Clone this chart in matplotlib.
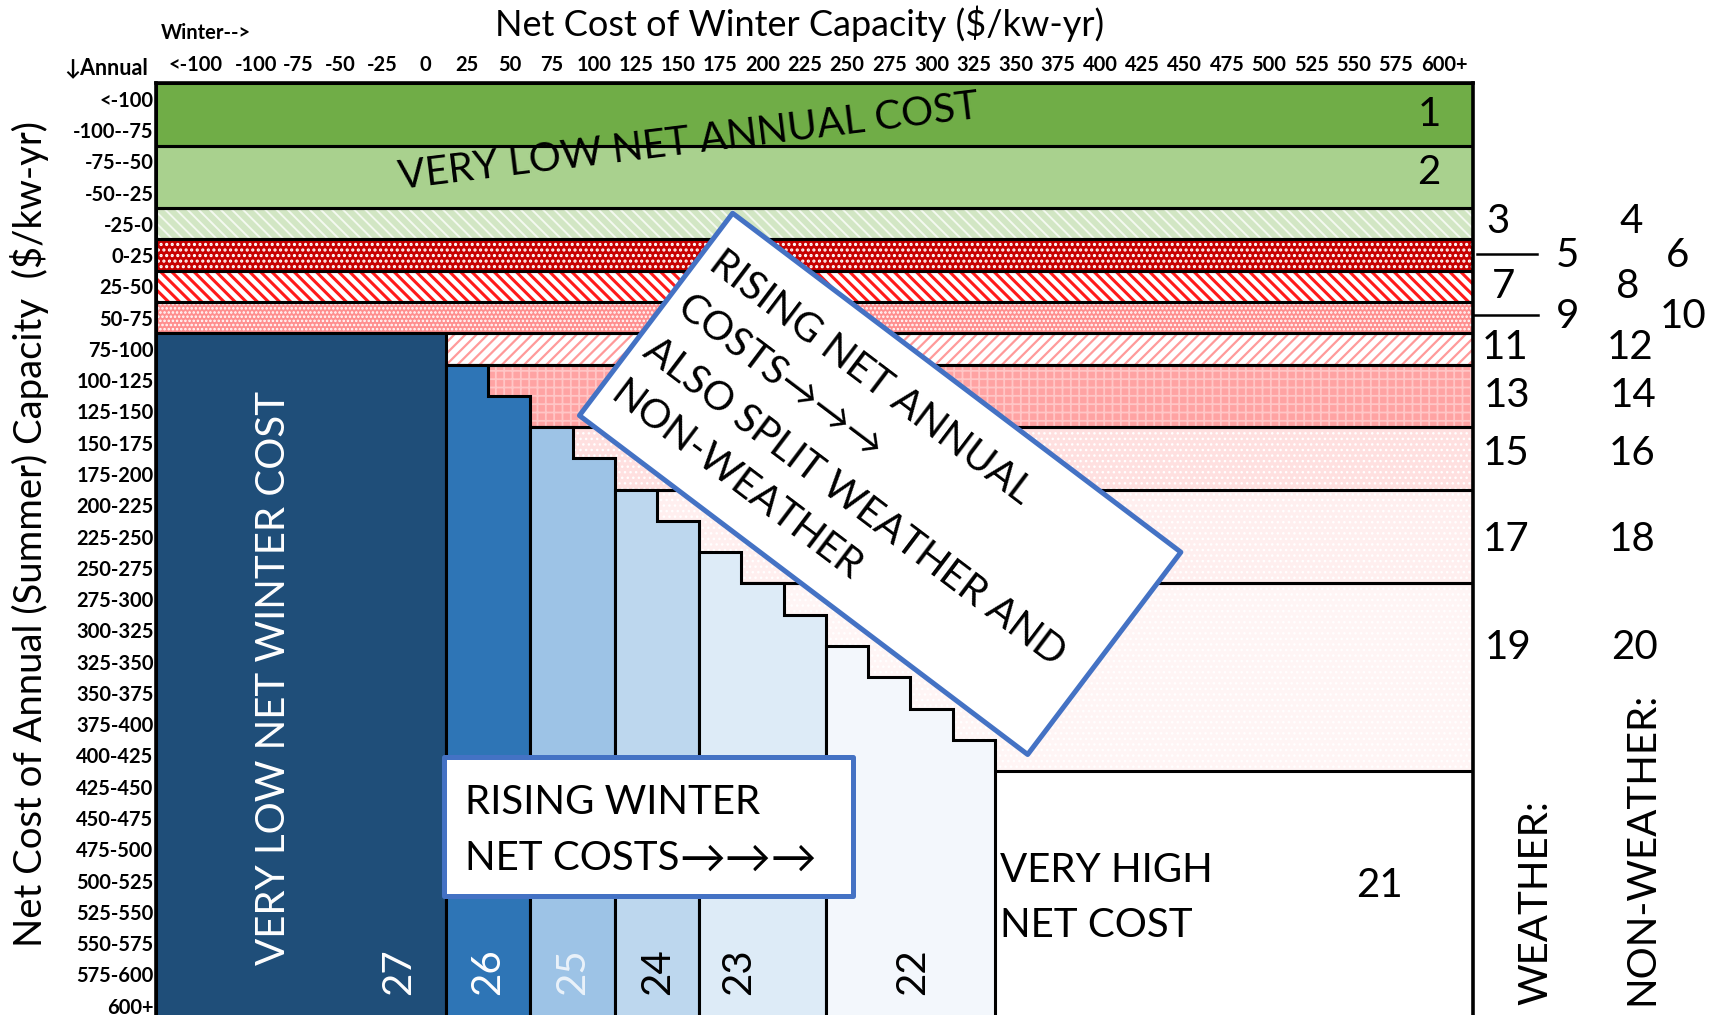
import matplotlib
matplotlib.use("Agg")
import matplotlib.pyplot as plt
from matplotlib.patches import Rectangle, Polygon
import numpy as np

# ---------------- data ----------------
col_labels = ["<-100", "-100", "-75", "-50", "-25", "0", "25", "50", "75", "100", "125",
              "150", "175", "200", "225", "250", "275", "300", "325", "350", "375", "400",
              "425", "450", "475", "500", "525", "550", "575", "600+"]
row_labels = ["<-100", "-100--75", "-75--50", "-50--25", "-25-0", "0-25", "25-50", "50-75",
              "75-100", "100-125", "125-150", "150-175", "175-200", "200-225", "225-250",
              "250-275", "275-300", "300-325", "325-350", "350-375", "375-400", "400-425",
              "425-450", "450-475", "475-500", "500-525", "525-550", "550-575", "575-600", "600+"]

# annual bands: (first row, last row exclusive)
band_rows = [(0, 2), (2, 4), (4, 5), (5, 6), (6, 7), (7, 8), (8, 9), (9, 11), (11, 13), (13, 16), (16, 22)]
band_face = ["#70AD47", "#A9D18E", "#D2E6C4", "#C80000", "#FFFFFF", "#FF8F8F", "#FFFFFF",
             "#FFA3A3", "#FFE0E0", "#FFEFEF", "#FFF5F5"]
band_hatch = [None, None, "\\\\\\", "...", "\\\\\\", "....", "///", "++", "...", "...", "..."]
band_hcol = [None, None, "#F4F9F0", "#FFFFFF", "#FF1A1A", "#FFFFFF", "#FF9A9A", "#FFC6C6",
             "#FFFFFF", "#FFFFFF", "#FFFFFF"]
band_hlw = [0, 0, 1.4, 1.5, 2.2, 1.2, 1.6, 1.3, 1.0, 1.0, 1.0]

# winter tiers: label, columns covered, top row of each column
tier_labels = [27, 26, 25, 24, 23, 22]
tier_cols = [[0, 1, 2, 3, 4, 5], [6, 7], [8, 9], [10, 11], [12, 13, 14], [15, 16, 17, 18]]
tier_tops = [[8, 8, 8, 8, 8, 8], [9, 10], [11, 12], [13, 14], [15, 16, 17], [18, 19, 20, 21]]
tier_face = ["#1F4E79", "#2E75B6", "#9DC3E6", "#BDD7EE", "#DDEBF7", "#F3F7FC"]
tier_text = ["white", "white", "#EAF2FA", "black", "black", "black"]
tier_num_x = [4.87, 6.99, 9.0, 11.02, 12.93, 17.06]

# right-side labels: (text, x, y)
side_labels = [("3", 30.92, 4.44), ("4", 34.08, 4.44), ("5", 32.56, 5.5), ("6", 35.19, 5.5),
               ("7", 31.05, 6.52), ("8", 33.99, 6.52), ("9", 32.58, 7.45), ("10", 35.31, 7.45),
               ("11", 31.09, 8.44), ("12", 34.05, 8.44), ("13", 31.14, 9.98), ("14", 34.12, 9.98),
               ("15", 31.12, 11.85), ("16", 34.10, 11.85), ("17", 31.12, 14.58), ("18", 34.10, 14.58),
               ("19", 31.16, 18.05), ("20", 34.17, 18.05)]

XMIN, XMAX = -0.865, 30.32
YMAX = 29.8

FONT = ["Lato", "DejaVu Sans"]
plt.rcParams["font.family"] = FONT

W, H = 1714, 1015
fig = plt.figure(figsize=(W / 100, H / 100), dpi=100)
ax = fig.add_axes([156.3 / W, 0, (1472.5 - 156.3) / W, (H - 83.1) / H])
ax.set_xlim(XMIN, XMAX)
ax.set_ylim(YMAX, 0)

EDGE_LW = 2.2

def hatched_rect(x0, y0, w, h, face, hatch, hcol, hlw, z):
    ax.add_patch(Rectangle((x0, y0), w, h, facecolor=face, edgecolor="none", lw=0, zorder=z))
    if hatch:
        with plt.rc_context({"hatch.linewidth": hlw}):
            p = Rectangle((x0, y0), w, h, facecolor="none", edgecolor=hcol, lw=0,
                          hatch=hatch, zorder=z + 0.1)
            if hasattr(p, "set_hatch_linewidth"):
                p.set_hatch_linewidth(hlw)
        ax.add_patch(p)
    ax.add_patch(Rectangle((x0, y0), w, h, facecolor="none", edgecolor="black",
                           lw=EDGE_LW, zorder=z + 0.2))

for (r0, r1), fc, ht, hc, hl in zip(band_rows, band_face, band_hatch, band_hcol, band_hlw):
    hatched_rect(XMIN, r0, XMAX - XMIN, r1 - r0, fc, ht, hc, hl, 2)

# winter tiers (staircase)
for lab, cols, tops, fc, tc, nx in zip(tier_labels, tier_cols, tier_tops, tier_face, tier_text, tier_num_x):
    bottom = YMAX + 1
    x_start = XMIN if cols[0] == 0 else cols[0]
    verts = [(x_start, bottom)]
    for k, (c, t) in enumerate(zip(cols, tops)):
        xl = x_start if k == 0 else c
        verts.append((xl, t))
        verts.append((c + 1, t))
    verts.append((cols[-1] + 1, bottom))
    ax.add_patch(Polygon(verts, closed=True, facecolor=fc, edgecolor="black",
                         lw=EDGE_LW, zorder=4, joinstyle="miter"))
    ax.text(nx, 28.4, str(lab), rotation=90, ha="center", va="center",
            fontsize=29, color=tc, zorder=5)

# axes styling
for s in ["left", "top", "right"]:
    ax.spines[s].set_linewidth(2.6)
    ax.spines[s].set_zorder(10)
ax.spines["bottom"].set_visible(False)
ax.xaxis.tick_top()
edges = [XMIN] + list(range(1, len(col_labels))) + [XMAX]
xt = [(edges[j] + edges[j + 1]) / 2 for j in range(len(col_labels))]
ax.set_xticks(xt)
ax.set_xticklabels(col_labels, fontsize=14.5, fontweight="bold")
ax.set_yticks([i + 0.5 for i in range(len(row_labels))])
ax.set_yticklabels(row_labels, fontsize=14.5, fontweight="bold")
ax.tick_params(axis="x", length=0, pad=5.5)
ax.tick_params(axis="y", length=0, pad=2)

# titles
fig.text(800 / W, 1 - 24 / H, "Net Cost of Winter Capacity ($/kw-yr)", ha="center", va="center", fontsize=26)
fig.text(30 / W, 1 - 534 / H, "Net Cost of Annual (Summer) Capacity  ($/kw-yr)", rotation=90,
         ha="center", va="center", fontsize=27.5)
fig.text(161 / W, 1 - 33 / H, "Winter-->", ha="left", va="center", fontsize=14.5, fontweight="bold")
fig.text(148 / W, 1 - 68 / H, "↓Annual", ha="right", va="center", fontsize=15.5, fontweight="bold")

# texts inside plot
ax.text(11.75, 1.89, "VERY LOW NET ANNUAL COST", rotation=7, ha="center", va="center",
        fontsize=29, zorder=6)
ax.text(29.29, 1.01, "1", ha="center", va="center", fontsize=29, zorder=6)
ax.text(29.29, 2.87, "2", ha="center", va="center", fontsize=29, zorder=6)
ax.text(1.90, 19.03, "VERY LOW NET WINTER COST", rotation=90, ha="center", va="center",
        fontsize=29, color="white", zorder=6)
ax.text(19.13, 26.05, "VERY HIGH\nNET COST", ha="left", va="center", fontsize=29,
        linespacing=1.6, zorder=6)
ax.text(28.11, 25.65, "21", ha="center", va="center", fontsize=29, zorder=6)

# right side labels
for t, x, y in side_labels:
    ax.text(x, y, t, ha="center", va="center", fontsize=29, clip_on=False)
ax.plot([30.42, 31.85], [5.47, 5.47], color="black", lw=1.8, clip_on=False)
ax.plot([30.35, 31.87], [7.42, 7.42], color="black", lw=1.8, clip_on=False)
ax.text(31.81, 29.49, "WEATHER:", rotation=90, ha="center", va="bottom", fontsize=29, clip_on=False)
ax.text(34.34, 29.49, "NON-WEATHER:", rotation=90, ha="center", va="bottom", fontsize=29, clip_on=False)

# box: rising winter
ax.add_patch(Rectangle((5.95, 21.56), 9.70, 4.44, facecolor="white", edgecolor="#4472C4",
                       lw=3.6, zorder=8, joinstyle="round"))
ax.text(6.44, 23.0, "RISING WINTER", ha="left", va="center", fontsize=29, zorder=9, family=FONT)
t2 = ax.text(6.44, 24.8, "NET COSTS", ha="left", va="center", fontsize=29, zorder=9, family=FONT)
ax.annotate("→→→", xy=(1.0, 0.47), xycoords=t2, ha="left", va="center", fontsize=33,
            zorder=9, family=FONT)

# rotated box
corners = [(12.79, 4.16), (23.41, 15.0), (19.78, 21.47), (9.16, 10.63)]
ax.add_patch(Polygon(corners, closed=True, facecolor="white", edgecolor="#4472C4", lw=3.6,
                     zorder=8, joinstyle="round"))
ax.text(12.62, 5.15, "RISING NET ANNUAL\nCOSTS→→→\nALSO SPLIT WEATHER AND\nNON-WEATHER",
        rotation=-37.1, rotation_mode="anchor", ha="left", va="top", multialignment="left",
        fontsize=29, linespacing=1.59, zorder=9, family=FONT)

fig.savefig("out.png", dpi=100)
